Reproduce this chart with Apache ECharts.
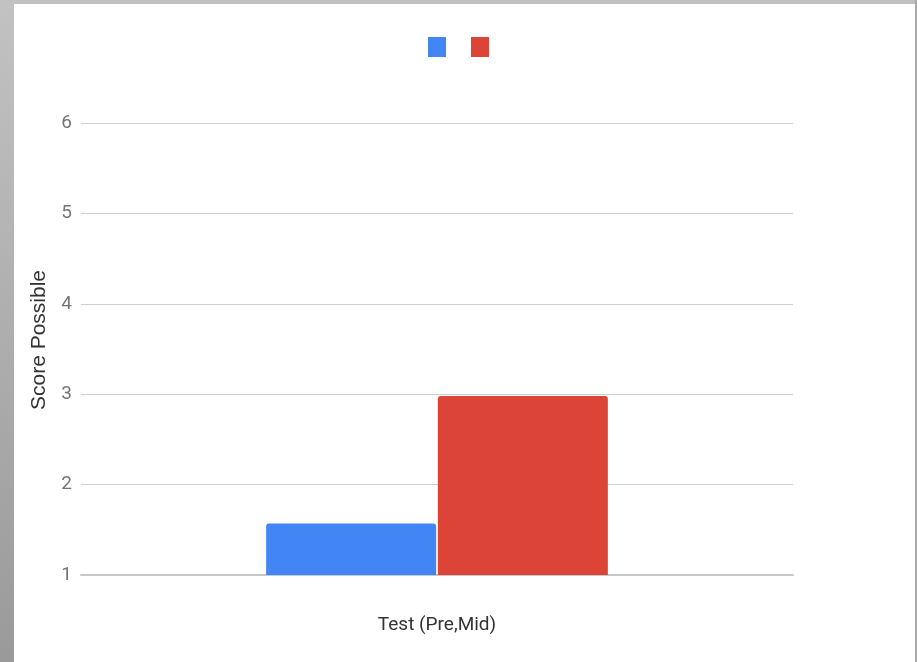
<!DOCTYPE html>
<html>
<head>
<meta charset="utf-8">
<script src="https://cdn.jsdelivr.net/npm/echarts@6/dist/echarts.min.js"></script>
<style>
  html, body { margin: 0; padding: 0; background: #fff; }
  #chart { width: 917px; height: 662px; }
  .edge { position: absolute; pointer-events: none; }
</style>
</head>
<body>
<div id="chart"></div>
<div class="edge" style="left:0;top:0;width:917px;height:4px;background:#c1c1c1;"></div>
<div class="edge" style="left:0;top:0;width:14px;height:662px;background:linear-gradient(#c2c2c2,#9a9a9a);"></div>
<div class="edge" style="left:915px;top:0;width:2px;height:662px;background:#a8a8a8;"></div>
<script>
var categories = ['Test (Pre,Mid)'];
var preValues = [1.57];
var midValues = [2.98];
var yTicks = [1, 2, 3, 4, 5, 6];

var chart = echarts.init(document.getElementById('chart'));

var option = {
    backgroundColor: '#fff',
    animation: false,
    legend: {
        top: 32,
        left: 'center',
        itemWidth: 18,
        itemHeight: 20,
        itemGap: 25,
        icon: 'rect',
        itemStyle: { borderRadius: 2 },
        formatter: function () { return ''; },
        data: ['Pre', 'Mid']
    },
    grid: {
        left: 81,
        right: 124,
        top: 123,
        bottom: 87
    },
    xAxis: {
        type: 'category',
        data: categories,
        axisTick: { show: false },
        axisLine: { lineStyle: { color: '#c8c8c8', width: 2 } },
        axisLabel: { color: '#333', fontSize: 19, margin: 41, fontFamily: 'Roboto' }
    },
    yAxis: {
        type: 'value',
        min: yTicks[0],
        max: yTicks[yTicks.length - 1],
        interval: 1,
        name: 'Score Possible',
        nameLocation: 'middle',
        nameGap: 31,
        nameTextStyle: { color: '#333', fontSize: 21, fontFamily: 'Liberation Sans', padding: [0, 0, 0, 18] },
        axisLabel: { color: '#757575', fontSize: 19, margin: 9, fontFamily: 'Roboto' },
        splitLine: { lineStyle: { color: '#cfcfcf', width: 1 } }
    },
    series: [
        {
            name: 'Pre',
            type: 'bar',
            data: preValues,
            barWidth: 170,
            barGap: '1%',
            itemStyle: { color: '#4285f4', borderRadius: [3, 3, 0, 0] }
        },
        {
            name: 'Mid',
            type: 'bar',
            data: midValues,
            barWidth: 170,
            itemStyle: { color: '#db4437', borderRadius: [3, 3, 0, 0] }
        }
    ]
};

chart.setOption(option);
</script>
</body>
</html>
